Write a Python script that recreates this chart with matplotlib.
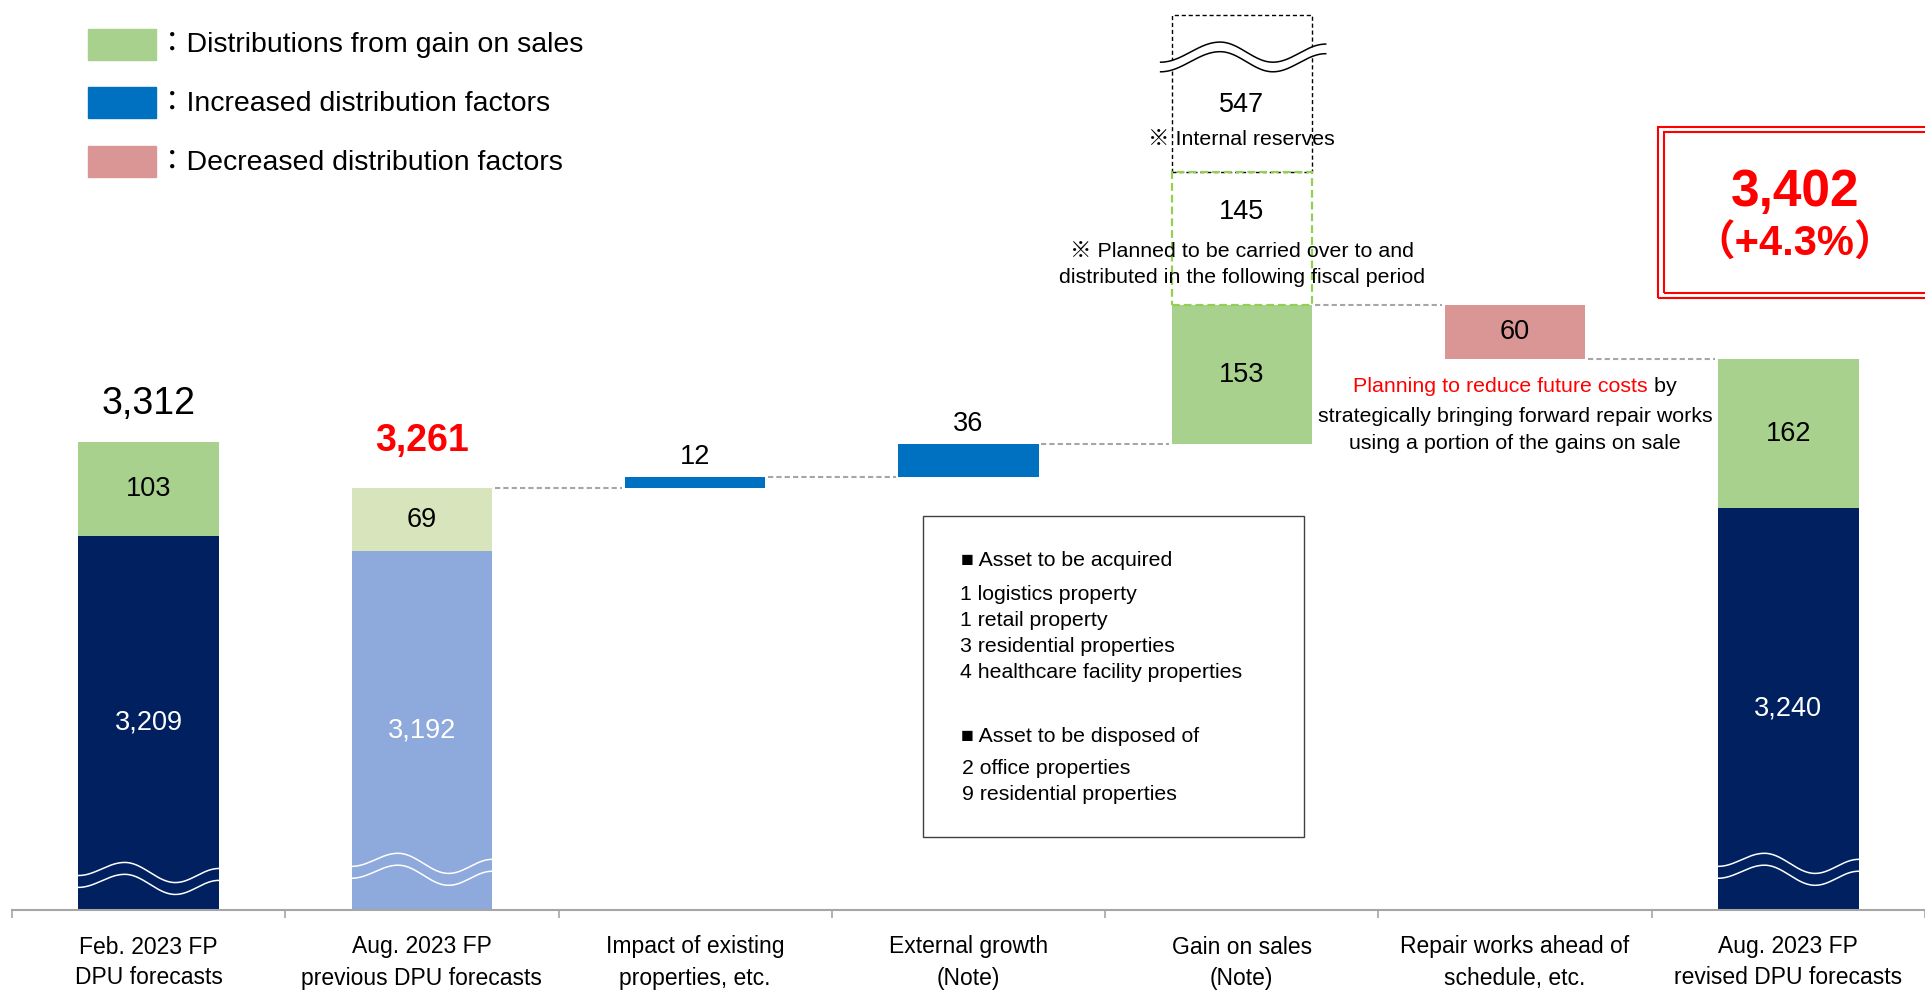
import numpy as np
import matplotlib.pyplot as plt
from matplotlib.patches import Rectangle
from matplotlib.transforms import blended_transform_factory, offset_copy

plt.rcParams['font.family'] = ['Liberation Sans', 'Noto Sans CJK JP', 'DejaVu Sans']

# ---- data ----
categories = [
    ["Feb. 2023 FP", "DPU forecasts"],
    ["Aug. 2023 FP", "previous DPU forecasts"],
    ["Impact of existing", "properties, etc."],
    ["External growth", "(Note)"],
    ["Gain on sales", "(Note)"],
    ["Repair works ahead of", "schedule, etc."],
    ["Aug. 2023 FP", "revised DPU forecasts"],
]
feb_base, feb_gain = 3209, 103
prev_base, prev_gain = 3192, 69
rev_base, rev_gain = 3240, 162
step_values = [12, 36, 153, -60]          # categories 2..5
carried_over = 145
internal_reserves = 547
rev_change = "+4.3%"
Y_FLOOR = 2800                            # broken axis, bars start here

legend_labels = ["Distributions from gain on sales",
                 "Increased distribution factors",
                 "Decreased distribution factors"]
acquired = ["1 logistics property", "1 retail property",
            "3 residential properties", "4 healthcare facility properties"]
disposed = ["2 office properties", "9 residential properties"]

GREEN = '#A9D18E'
PALE_GREEN = '#D8E4BC'
LIGHT_BLUE = '#8EA9DB'
NAVY = '#002060'
BLUE = '#0070C0'
PINK = '#DA9694'
GRAY = '#A6A6A6'

W, H = 1925, 990
fig = plt.figure(figsize=(W / 100, H / 100), dpi=100)
ax = fig.add_axes([12 / W, 80 / H, 1 - 12 / W, 1 - 80 / H])
ax.set_xlim(-0.5, 6.475)
ax.set_ylim(Y_FLOOR, 3795)
for s in ['top', 'right', 'left']:
    ax.spines[s].set_visible(False)
ax.spines['bottom'].set_color(GRAY)
ax.spines['bottom'].set_linewidth(1.5)
ax.set_yticks([])
ax.set_xticks(np.arange(-0.5, 7, 1))
ax.set_xticklabels([])
ax.tick_params(axis='x', length=6, width=1.2, color=GRAY)


def fx(px):
    return px / W


def fy(py):
    return 1 - py / H


bw = 0.514
lab_fs = 19.5

# ---- end bars (stacked) ----
ends = [(0, feb_base, feb_gain, NAVY, GREEN, 'white'),
        (1, prev_base, prev_gain, LIGHT_BLUE, PALE_GREEN, 'white'),
        (6, rev_base, rev_gain, NAVY, GREEN, 'white')]
for x, base, gain, c1, c2, tc in ends:
    ax.bar(x, base - Y_FLOOR, bottom=Y_FLOOR, width=bw, color=c1, zorder=2)
    ax.bar(x, gain, bottom=base, width=bw, color=c2, zorder=2)
    ax.text(x, (Y_FLOOR + base) / 2, f"{base:,}", color=tc, ha='center',
            va='center', fontsize=lab_fs, zorder=5)
    ax.text(x, base + gain / 2, f"{gain}", color='black', ha='center',
            va='center', fontsize=lab_fs, zorder=5)

ax.annotate(f"{feb_base + feb_gain:,}", xy=(0, feb_base + feb_gain), xytext=(0, 27),
            textcoords='offset points', ha='center', va='center', fontsize=27)
ax.annotate(f"{prev_base + prev_gain:,}", xy=(1, prev_base + prev_gain), xytext=(0, 34),
            textcoords='offset points', ha='center', va='center', fontsize=27,
            color='red', fontweight='bold')

# ---- waterfall steps ----
step_colors = [BLUE, BLUE, GREEN, PINK]
level = prev_base + prev_gain
levels = [level]
for i, v in enumerate(step_values):
    x = i + 2
    bottom = level if v > 0 else level + v
    ax.bar(x, abs(v), bottom=bottom, width=bw, color=step_colors[i], zorder=2)
    if abs(v) < 50:
        ax.annotate(f"{v}", xy=(x, bottom + abs(v)), xytext=(0, 14.5),
                    textcoords='offset points', ha='center', va='center',
                    fontsize=lab_fs)
    else:
        ax.text(x, bottom + abs(v) / 2, f"{abs(v)}", ha='center', va='center',
                fontsize=lab_fs, zorder=5)
    level += v
    levels.append(level)

# connectors
conn = [(1, levels[0]), (2, levels[1]), (3, levels[2]), (4, levels[3]), (5, levels[4])]
for x, y in conn:
    ax.plot([x + bw / 2 + 0.01, x + 1 - bw / 2 - 0.01], [y, y], color=GRAY, lw=1.5,
            dashes=(2.5, 1.5), zorder=1)

# ---- carried over / internal reserve boxes above gain on sales ----
top_gain = levels[3]
ax.add_patch(Rectangle((4 - bw / 2, top_gain + carried_over), bw, 172, fill=False,
                       edgecolor='black', lw=1, linestyle=(0, (3, 2)), zorder=3))
ax.add_patch(Rectangle((4 - bw / 2, top_gain), bw, carried_over, fill=False,
                       edgecolor='#92D050', lw=1.6, linestyle=(0, (3.5, 1.8)), zorder=4))


def wave_curve(t, keys):
    kt = [k[0] for k in keys]
    kv = [k[1] for k in keys]
    out = np.zeros_like(t)
    for i in range(len(kt) - 1):
        m = (t >= kt[i]) & (t <= kt[i + 1])
        u = (t[m] - kt[i]) / (kt[i + 1] - kt[i])
        w = (1 - np.cos(np.pi * u)) / 2
        out[m] = kv[i] * (1 - w) + kv[i + 1] * w
    return out


def draw_break(x0, x1, ymid, amp, gap, keys, color, fillcolor=None, lw=1.1):
    t = np.linspace(0, 1, 200)
    xs = x0 + (x1 - x0) * t
    y1 = ymid + amp * wave_curve(t, keys)
    y2 = y1 - gap
    if fillcolor:
        ax.fill_between(xs, y2, y1, color=fillcolor, zorder=6, lw=0)
    ax.plot(xs, y1, color=color, lw=lw, zorder=7)
    ax.plot(xs, y2, color=color, lw=lw, zorder=7)


bar_keys = [(0, -0.3), (0.33, 1), (0.69, -1), (1, 0.4)]
draw_break(0 - bw / 2, 0 + bw / 2, 2841, 11, 13, bar_keys, 'white')
draw_break(1 - bw / 2, 1 + bw / 2, 2851, 11, 13, bar_keys, 'white')
draw_break(6 - bw / 2, 6 + bw / 2, 2851, 11, 13, bar_keys, 'white')
draw_break(4 - bw / 2 - 0.04, 4 + bw / 2 + 0.05, 3738, 11, 10.5,
           [(0, -1), (0.36, 1), (0.68, -1), (1, 0.8)], 'black', fillcolor='white')

ax.text(4, 3680, f"{internal_reserves}", ha='center', va='center', fontsize=lab_fs, zorder=8)
ax.text(4, 3642, "※ Internal reserves", ha='center', va='center', fontsize=15.4, zorder=8)
ax.text(4, 3563, f"{carried_over}", ha='center', va='center', fontsize=lab_fs, zorder=8)
ax.text(4, 3520, "※ Planned to be carried over to and", ha='center', va='center',
        fontsize=15.4, zorder=8)
ax.text(4, 3492, "distributed in the following fiscal period", ha='center',
        va='center', fontsize=15.4, zorder=8)

# ---- repair works note ----
t1 = ax.text(5, 3372, "Planning to reduce future costs", color='red', ha='left',
             va='center', fontsize=15.4)
t2 = ax.annotate(" by", xy=(1, 0.5), xycoords=t1, ha='left', va='center', fontsize=15.4)
fig.canvas.draw()
wline = t1.get_window_extent().width + t2.get_window_extent().width
t1.set_transform(offset_copy(ax.transData, fig=fig, x=-wline / 2, units='dots'))
ax.text(5, 3340, "strategically bringing forward repair works", ha='center',
        va='center', fontsize=15.4)
ax.text(5, 3310, "using a portion of the gains on sale", ha='center',
        va='center', fontsize=15.4)

# ---- category labels ----
tr = blended_transform_factory(ax.transData, fig.transFigure)
for i, (l1, l2) in enumerate(categories):
    ax.text(i, fy(947), l1, transform=tr, ha='center', va='center', fontsize=16.5)
    ax.text(i, fy(978), l2, transform=tr, ha='center', va='center', fontsize=16.5)

# ---- legend ----
leg_colors = [GREEN, BLUE, PINK]
leg_y = [44.5, 103, 161.5]
for c, lab, yc in zip(leg_colors, legend_labels, leg_y):
    fig.add_artist(Rectangle((fx(88), fy(yc + 15.5)), 68 / W, 31 / H, color=c,
                             transform=fig.transFigure))
    fig.text(fx(158), fy(yc + 1), "：" + lab, ha='left', va='center', fontsize=20.5)

# ---- asset box ----
fig.add_artist(Rectangle((fx(923), fy(837)), 381 / W, 321 / H, fill=False,
                         edgecolor='#404040', lw=1, transform=fig.transFigure))
fig.text(fx(961), fy(560), "■ Asset to be acquired", ha='left', va='center', fontsize=15.3)
for j, s in enumerate(acquired):
    fig.text(fx(960), fy(595 + j * 25.7), s, ha='left', va='center', fontsize=15.3)
fig.text(fx(961), fy(736), "■ Asset to be disposed of", ha='left', va='center', fontsize=15.3)
for j, s in enumerate(disposed):
    fig.text(fx(962), fy(769 + j * 26), s, ha='left', va='center', fontsize=15.3)

# ---- revised DPU highlight box ----
fig.add_artist(Rectangle((fx(1658), fy(298)), 300 / W, 171 / H, fill=False,
                         edgecolor='red', lw=1.5, transform=fig.transFigure))
fig.add_artist(Rectangle((fx(1664), fy(293)), 290 / W, 161 / H, fill=False,
                         edgecolor='red', lw=1.5, transform=fig.transFigure))
fig.text(fx(1795), fy(193), f"{rev_base + rev_gain:,}", color='red', fontweight='bold',
         ha='center', va='center', fontsize=37)
fig.text(fx(1795), fy(245), f"（{rev_change}）", color='red', fontweight='bold',
         ha='center', va='center', fontsize=30)

fig.savefig('out.png', dpi=100)
